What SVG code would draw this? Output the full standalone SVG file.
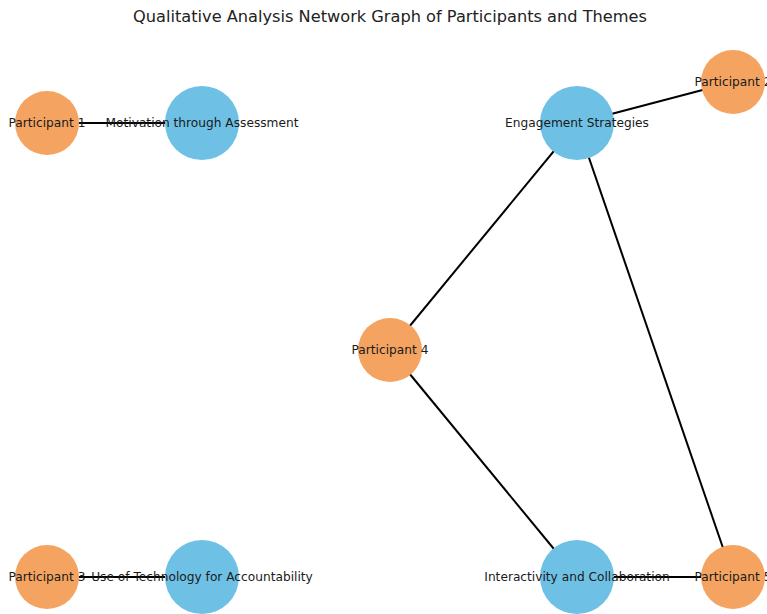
<svg xmlns="http://www.w3.org/2000/svg" width="767" height="614" viewBox="0 0 767 614">
<style>
.p{fill:#f4a460}
.t{fill:#6ec1e4}
.lbl{font-family:"DejaVu Sans",sans-serif;font-size:12.2px;fill:#1a1a1a;text-anchor:middle;dominant-baseline:central}
.title{font-family:"DejaVu Sans",sans-serif;font-size:16.2px;fill:#222;text-anchor:middle}
#edges line{stroke:#000;stroke-width:2}
</style>
<rect width="767" height="614" fill="#fff"/>
<text class="title" x="390" y="22">Qualitative Analysis Network Graph of Participants and Themes</text>
<g id="edges">
<line x1="47" y1="123" x2="202" y2="123"/>
<line x1="47" y1="577" x2="202" y2="577"/>
<line x1="577" y1="123" x2="733" y2="82"/>
<line x1="577" y1="123" x2="390" y2="350"/>
<line x1="577" y1="123" x2="733" y2="577"/>
<line x1="390" y1="350" x2="577" y2="577"/>
<line x1="577" y1="577" x2="733" y2="577"/>
</g>
<g id="participant1"><circle class="p" cx="47" cy="123" r="32"/></g>
<g id="motivation"><circle class="t" cx="202" cy="123" r="37"/></g>
<g id="engagement"><circle class="t" cx="577" cy="123" r="37"/></g>
<g id="participant2"><circle class="p" cx="733" cy="82" r="32"/></g>
<g id="participant4"><circle class="p" cx="390" cy="350" r="32"/></g>
<g id="participant3"><circle class="p" cx="47" cy="577" r="32"/></g>
<g id="technology"><circle class="t" cx="202" cy="577" r="37"/></g>
<g id="interactivity"><circle class="t" cx="577" cy="577" r="37"/></g>
<g id="participant5"><circle class="p" cx="733" cy="577" r="32"/></g>
<g id="labels">
<text class="lbl" x="47" y="123">Participant 1</text>
<text class="lbl" x="202" y="123">Motivation through Assessment</text>
<text class="lbl" x="577" y="123">Engagement Strategies</text>
<text class="lbl" x="733" y="82">Participant 2</text>
<text class="lbl" x="390" y="350">Participant 4</text>
<text class="lbl" x="47" y="577">Participant 3</text>
<text class="lbl" x="202" y="577">Use of Technology for Accountability</text>
<text class="lbl" x="577" y="577">Interactivity and Collaboration</text>
<text class="lbl" x="733" y="577">Participant 5</text>
</g>
</svg>
